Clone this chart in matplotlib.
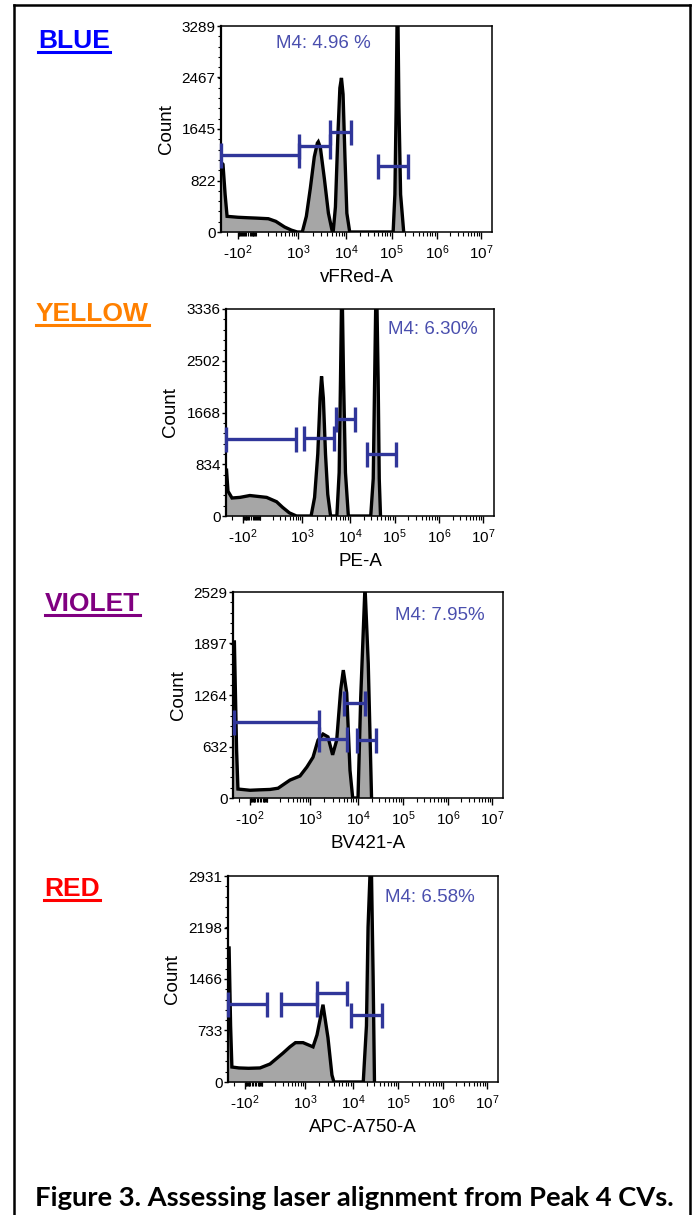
import numpy as np
import matplotlib
matplotlib.use('Agg')
import matplotlib.pyplot as plt
from matplotlib.lines import Line2D
from matplotlib.ticker import FixedLocator, FixedFormatter, AutoMinorLocator

plt.rcParams['font.family'] = ['Liberation Sans', 'DejaVu Sans']
plt.rcParams['mathtext.fontset'] = 'custom'
plt.rcParams['mathtext.rm'] = 'Liberation Sans'
plt.rcParams['mathtext.it'] = 'Liberation Sans:italic'
plt.rcParams['mathtext.bf'] = 'Liberation Sans:bold'
plt.rcParams['axes.unicode_minus'] = False

# ---------------- data ----------------
panel_titles = ['BLUE', 'YELLOW', 'VIOLET', 'RED']
title_colors = ['#0000ff', '#ff8000', '#800080', '#ff0000']
channel_labels = ['vFRed-A', 'PE-A', 'BV421-A', 'APC-A750-A']
y_max = [3289, 3336, 2529, 2931]
y_ticks = [[0, 822, 1645, 2467, 3289],
           [0, 834, 1668, 2502, 3336],
           [0, 632, 1264, 1897, 2529],
           [0, 733, 1466, 2198, 2931]]
m4_labels = ['M4: 4.96 %', 'M4: 6.30%', 'M4: 7.95%', 'M4: 6.58%']

x_major = [-100, 1e3, 1e4, 1e5, 1e6, 1e7]
x_major_labels = [r'-$10^2$', r'$10^3$', r'$10^4$', r'$10^5$', r'$10^6$', r'$10^7$']

blue_x = [-300, -285, -265, -232, -205, -100, 0, 100, 200, 300, 480, 690, 950,
          1210, 1470, 1780, 2150, 2490, 2600, 2870, 3480, 4220, 5100,
          5300, 5900, 6600, 7300, 7870, 8500, 9300, 10200, 11800,
          108000, 118000, 126000, 132000, 138000, 145000, 158000, 185000]
blue_count = [1100, 1100, 1080, 600, 250, 235, 228, 222, 212, 170, 80, 30, 0,
              0, 250, 700, 1200, 1420, 1440, 1350, 850, 300, 0,
              0, 400, 1500, 2300, 2460, 2200, 1200, 300, 0,
              0, 600, 2000, 3400, 3400, 2000, 600, 0]

yellow_x = [-300, -290, -265, -205, -122, -16, 141, 246, 341, 495, 725,
            1520, 1800, 2100, 2350, 2520, 2750, 3050, 3400, 3900,
            5280, 5900, 6300, 6600, 6900, 7300, 8000, 9200,
            29000, 33000, 35500, 37500, 40000, 42500, 45000, 48000]
yellow_count = [740, 740, 400, 290, 300, 330, 300, 230, 140, 50, 0,
                0, 300, 1000, 1900, 2250, 1900, 1000, 350, 0,
                0, 700, 2200, 3400, 3400, 2200, 700, 0,
                0, 600, 2200, 3400, 3400, 2200, 600, 0]

violet_x = [-300, -275, -240, -220, -100, 0, 113, 178, 341, 584, 845, 1155, 1470,
            1870, 2370, 2960, 3600, 4360, 4940, 5820, 6810, 7750, 10000, 11500,
            14300, 16900, 20000]
violet_count = [1916, 1916, 600, 110, 95, 100, 105, 120, 220, 270, 380, 500, 710,
                785, 750, 530, 710, 1330, 1570, 1290, 340, 0, 0, 1240,
                2600, 1650, 0]

red_x = [-300, -280, -255, -235, -150, -50, 56, 150, 305, 445, 600, 900, 1470,
         1780, 2370, 3010, 3640, 4000, 16900, 19900, 21600, 24000, 25700,
         28000, 30000]
red_count = [1907, 1907, 800, 213, 200, 195, 200, 256, 410, 500, 560, 560, 500,
             670, 1100, 630, 100, 0, 0, 800, 2200, 3000, 3000,
             1500, 0]

# gates (markers M1..M4): start, end, level
blue_gate_lo = [-300, 1050, 4640, 51000]
blue_gate_hi = [1050, 4640, 12300, 227000]
blue_gate_lvl = [1230, 1375, 1600, 1055]

yellow_gate_lo = [-300, 1100, 5100, 23900]
yellow_gate_hi = [725, 4640, 12900, 105000]
yellow_gate_lvl = [1240, 1255, 1560, 1000]

violet_gate_lo = [-280, 1540, 5100, 9500]
violet_gate_hi = [1540, 5820, 14300, 25000]
violet_gate_lvl = [930, 725, 1170, 712]

red_gate_lo = [-300, 273, 1750, 9100]
red_gate_hi = [124, 1750, 7610, 44800]
red_gate_lvl = [1110, 1110, 1265, 955]

hist_x = [blue_x, yellow_x, violet_x, red_x]
hist_y = [blue_count, yellow_count, violet_count, red_count]
gates_lo = [blue_gate_lo, yellow_gate_lo, violet_gate_lo, red_gate_lo]
gates_hi = [blue_gate_hi, yellow_gate_hi, violet_gate_hi, red_gate_hi]
gates_lvl = [blue_gate_lvl, yellow_gate_lvl, violet_gate_lvl, red_gate_lvl]

# ---------------- biexponential-like axis scale ----------------
_anc_v = np.array([-3000, -300, -100, 0, 100, 1e3, 1e4, 1e5, 1e6, 1e7, 1e8])
_anc_p = np.array([-45, 0, 17, 26, 35, 77, 125, 170, 215, 259, 304]) / 270.0


def _h(x):
    return np.arcsinh(np.asarray(x, dtype=float) / 50.0)


_anc_h = _h(_anc_v)


def biex_fwd(x):
    return np.interp(_h(x), _anc_h, _anc_p)


def biex_inv(u):
    return 50.0 * np.sinh(np.interp(np.asarray(u, dtype=float), _anc_p, _anc_h))


x_minor = ([-v for v in range(10, 100, 10)] + [-200] + list(range(10, 100, 10)) +
           [m * 10 ** k for k in range(2, 7) for m in range(2, 10)])

# ---------------- layout ----------------
W, H = 696, 1215
fig = plt.figure(figsize=(W / 100, H / 100), dpi=100)


def fx(x):
    return x / W


def fy(y):
    return 1 - y / H


rects = [(221, 26, 492, 232), (226, 309, 494, 516), (233, 592, 503, 798), (228, 876, 498, 1082)]
m4_pos = [(276, 43), (388, 330), (395, 615), (385, 897)]
title_pos = [(38, 48), (36, 321), (45, 611), (44, 896)]

gate_color = '#30369a'
text_color = '#4a4fae'

for i in range(4):
    l, t, r, b = rects[i]
    ax = fig.add_axes([fx(l), fy(b), (r - l) / W, (b - t) / H])
    ax.set_xscale('function', functions=(biex_fwd, biex_inv))
    ax.set_xlim(float(biex_inv(0.0)), float(biex_inv(1.0)))
    ax.set_ylim(0, y_max[i])

    xs = np.array(hist_x[i], dtype=float)
    ys = np.array(hist_y[i], dtype=float)
    ax.fill_between(xs, ys, 0, color='#a6a6a6', lw=0, zorder=1)
    ax.plot(xs, ys, color='black', lw=2.4, solid_joinstyle='miter', zorder=2)

    for lo, hi, lv in zip(gates_lo[i], gates_hi[i], gates_lvl[i]):
        ax.plot([lo, hi], [lv, lv], color=gate_color, lw=2.4, marker='|',
                markersize=18, mew=2.4, solid_capstyle='butt', clip_on=False, zorder=4)

    ax.text((m4_pos[i][0] - l) / (r - l), (b - m4_pos[i][1]) / (b - t), m4_labels[i],
            transform=ax.transAxes, ha='left', va='center', fontsize=13.5, color=text_color)

    # ticks
    ax.xaxis.set_major_locator(FixedLocator(x_major))
    ax.xaxis.set_major_formatter(FixedFormatter(x_major_labels))
    ax.xaxis.set_minor_locator(FixedLocator(x_minor))
    ax.yaxis.set_major_locator(FixedLocator(y_ticks[i]))
    ax.yaxis.set_major_formatter(FixedFormatter([str(v) for v in y_ticks[i]]))
    ax.yaxis.set_minor_locator(AutoMinorLocator(5))
    ax.tick_params(axis='x', which='major', length=5, width=1, pad=3, labelsize=11, direction='out')
    ax.tick_params(axis='x', which='minor', length=3, width=0.8, direction='out')
    ax.tick_params(axis='y', which='major', length=3, width=1, pad=1, labelsize=11, direction='out')
    ax.tick_params(axis='y', which='minor', length=2, width=0.8, direction='out')
    for s in ax.spines.values():
        s.set_linewidth(1.1)
    ax.spines['left'].set_linewidth(1.6)

    ax.set_xlabel(channel_labels[i], fontsize=13.5, va='center')
    ax.xaxis.set_label_coords(0.5, -46 / (b - t))
    ax.set_ylabel('Count', fontsize=13.5, va='center', ha='center', rotation_mode='anchor')
    ax.yaxis.set_label_coords(-55 / (r - l), 0.5)

# panel titles
title_texts = []
for i in range(4):
    tt = fig.text(fx(title_pos[i][0]), fy(title_pos[i][1]), panel_titles[i], fontsize=19,
                  fontweight='bold', color=title_colors[i], ha='left', va='baseline')
    title_texts.append(tt)

caption = fig.text(fx(35), fy(1198), 'Figure 3. Assessing laser alignment from Peak 4 CVs.',
                   fontsize=16.5, fontweight='bold', family=['Lato', 'DejaVu Sans'],
                   ha='left', va='center', color='black')

# frame
frame_lw = 1.8
fig.add_artist(Line2D([fx(14), fx(14)], [fy(5), fy(1215)], color='black', lw=frame_lw))
fig.add_artist(Line2D([fx(14), fx(690)], [fy(5), fy(5)], color='black', lw=frame_lw))
fig.add_artist(Line2D([fx(690), fx(690)], [fy(5), fy(1215)], color='black', lw=frame_lw))

# fit caption width and add underlines
fig.canvas.draw()
renderer = fig.canvas.get_renderer()
bb = caption.get_window_extent(renderer)
target_w = 637
caption.set_fontsize(16.5 * target_w / bb.width)

for i, tt in enumerate(title_texts):
    bb = tt.get_window_extent(renderer)
    yline = title_pos[i][1] + 3.5
    fig.add_artist(Line2D([bb.x0 / W, bb.x1 / W], [fy(yline), fy(yline)],
                          color=title_colors[i], lw=2.2))

fig.savefig('out.png', dpi=100)
